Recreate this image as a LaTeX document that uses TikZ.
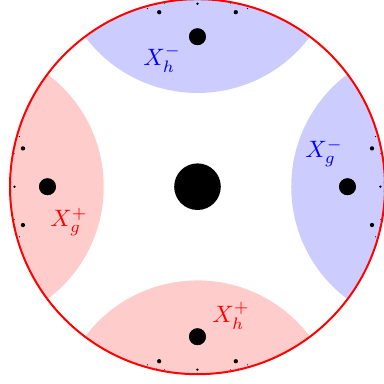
\documentclass[tikz,border=0pt]{standalone}
\tikzset{
  lbl/.style={scale=1.8, inner sep=0pt},
  disk/.style={line width=1.5pt, draw=red}
}
\begin{document}
\begin{tikzpicture}[x=5cm,y=5cm]
\useasboundingbox (-1.0533,-1.0523) rectangle (0.9947,0.9957);
\begin{scope}
  \clip (0,0) circle (1);
  \fill[blue!20] (0,1.25) circle (0.75);
  \fill[blue!20] (1.25,0) circle (0.75);
  \fill[red!20] (-1.25,0) circle (0.75);
  \fill[red!20] (0,-1.25) circle (0.75);
\end{scope}
\draw[disk] (0,0) circle (1);
\fill (0,0) circle (0.1243);
\foreach \a in {0,90,180,270}{
  \begin{scope}[rotate=\a]
    \foreach \x/\y/\f in {0.8/0/0.36, 0.975610/0/0.048186, 0.930760/0.204313/0.091942,
        0.997260/0/0.00547, 0.994307/0.023956/0.01078, 0.975609/0.175611/0.017348,
        0.949856/0.267148/0.026406, 0.970352/0.218261/0.010779}{
      \fill (\x,\y) circle[radius={0.1243*\f}];
      \fill (\x,-\y) circle[radius={0.1243*\f}];
    }
  \end{scope}
}
\node[lbl, text=blue] (xhm) at (-0.189,0.681) {$X_h^-$};
\node[lbl, text=blue] (xgm) at (0.675,0.180) {$X_g^-$};
\node[lbl, text=red] (xgp) at (-0.685,-0.188) {$X_g^+$};
\node[lbl, text=red] (xhp) at (0.179,-0.690) {$X_h^+$};
\end{tikzpicture}
\end{document}
